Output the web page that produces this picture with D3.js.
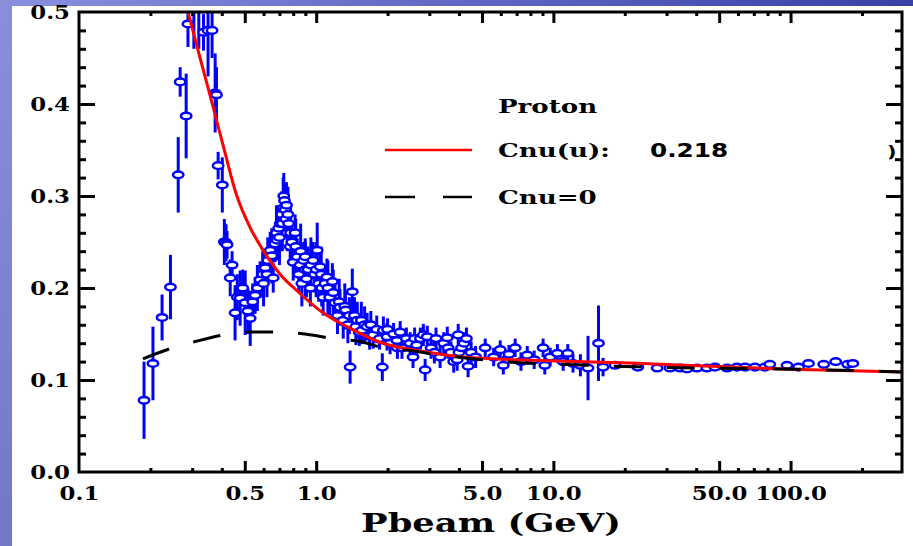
<!DOCTYPE html>
<html>
<head>
<meta charset="utf-8">
<script src="https://cdn.jsdelivr.net/npm/d3@7"></script>
<style>
  html, body { margin: 0; padding: 0; background: #fff; overflow: hidden; }
  text { font-family: "DejaVu Serif", serif; font-weight: bold; fill: #000; }
</style>
</head>
<body>
<div id="chart"></div>
<script>
/**
 * CONSTANTS AND GLOBALS
 * */
const width = 913,
  height = 546,
  margin = { top: 12, bottom: 74, left: 79, right: 11 };

// horizontal stretch of the lettering (the original is a stretched screenshot)
const tickStretch = 1.27,
  legendStretch = 1.45,
  titleStretch = 1.36;

/**
 * DATA  [pbeam (GeV), value, error]
 * */
const lowPoints = [
  [0.188, 0.078, 0.042], [0.205, 0.118, 0.040], [0.224, 0.168, 0.025], [0.243, 0.201, 0.035],
  [0.262, 0.323, 0.041], [0.267, 0.424, 0.016], [0.283, 0.387, 0.046], [0.288, 0.487, 0.025],
  [0.305, 0.530, 0.070], [0.320, 0.520, 0.060], [0.335, 0.478, 0.020], [0.350, 0.480, 0.050],
  [0.364, 0.480, 0.030], [0.375, 0.412, 0.043], [0.380, 0.410, 0.030], [0.386, 0.333, 0.015],
  [0.402, 0.312, 0.030], [0.410, 0.250, 0.025], [0.413, 0.250, 0.020], [0.417, 0.249, 0.020],
  [0.421, 0.247, 0.015], [0.434, 0.211, 0.020], [0.442, 0.225, 0.015]
];

const resonancePoints = [
  [0.455, 0.173, 0.030], [0.465, 0.190, 0.025], [0.478, 0.189, 0.030], [0.490, 0.200, 0.020],
  [0.502, 0.184, 0.035], [0.515, 0.175, 0.025], [0.527, 0.167, 0.030], [0.540, 0.185, 0.020],
  [0.553, 0.192, 0.020], [0.565, 0.200, 0.025], [0.580, 0.209, 0.020], [0.595, 0.215, 0.025],
  [0.600, 0.205, 0.025], [0.610, 0.222, 0.020], [0.620, 0.215, 0.025], [0.625, 0.230, 0.025],
  [0.640, 0.241, 0.020], [0.650, 0.235, 0.030], [0.659, 0.211, 0.016], [0.670, 0.248, 0.020],
  [0.680, 0.260, 0.030], [0.685, 0.252, 0.020], [0.695, 0.265, 0.020], [0.700, 0.255, 0.030],
  [0.705, 0.270, 0.020], [0.715, 0.280, 0.025], [0.720, 0.270, 0.030], [0.726, 0.287, 0.033],
  [0.730, 0.300, 0.025], [0.735, 0.295, 0.020], [0.740, 0.285, 0.030], [0.745, 0.275, 0.020],
  [0.750, 0.290, 0.025], [0.755, 0.260, 0.020], [0.760, 0.280, 0.030], [0.765, 0.270, 0.025],
  [0.777, 0.245, 0.020], [0.780, 0.260, 0.030], [0.790, 0.250, 0.020], [0.800, 0.228, 0.020],
  [0.815, 0.260, 0.020], [0.820, 0.245, 0.030], [0.832, 0.234, 0.020], [0.845, 0.215, 0.020],
  [0.856, 0.225, 0.020], [0.860, 0.240, 0.030], [0.870, 0.205, 0.025], [0.885, 0.230, 0.020],
  [0.899, 0.234, 0.020], [0.900, 0.220, 0.030], [0.910, 0.210, 0.020], [0.925, 0.220, 0.025],
  [0.945, 0.200, 0.020], [0.950, 0.225, 0.030], [0.970, 0.230, 0.020], [0.985, 0.215, 0.020],
  [1.000, 0.220, 0.030], [1.010, 0.241, 0.030], [1.025, 0.205, 0.020], [1.040, 0.223, 0.020],
  [1.050, 0.215, 0.030], [1.055, 0.200, 0.020], [1.070, 0.190, 0.020], [1.090, 0.205, 0.020],
  [1.110, 0.212, 0.020], [1.120, 0.200, 0.030], [1.140, 0.190, 0.020], [1.170, 0.207, 0.020],
  [1.180, 0.195, 0.025], [1.200, 0.184, 0.020], [1.230, 0.170, 0.020], [1.250, 0.185, 0.025],
  [1.260, 0.179, 0.020], [1.300, 0.165, 0.020], [1.320, 0.180, 0.025], [1.330, 0.176, 0.020],
  [1.360, 0.160, 0.020], [1.380, 0.170, 0.020], [1.390, 0.114, 0.018], [1.420, 0.196, 0.025]
];

const midPoints = [
  [1.45, 0.170, 0.020], [1.47, 0.158, 0.020], [1.49, 0.165, 0.020], [1.52, 0.152, 0.015],
  [1.55, 0.165, 0.020], [1.56, 0.154, 0.015], [1.60, 0.160, 0.020], [1.64, 0.158, 0.015],
  [1.68, 0.148, 0.015], [1.70, 0.160, 0.015], [1.74, 0.149, 0.015], [1.80, 0.155, 0.015],
  [1.85, 0.145, 0.012], [1.90, 0.114, 0.015], [1.92, 0.154, 0.015], [1.99, 0.147, 0.015],
  [2.00, 0.155, 0.012], [2.05, 0.140, 0.012], [2.12, 0.150, 0.012], [2.19, 0.143, 0.012],
  [2.20, 0.135, 0.012], [2.26, 0.152, 0.012], [2.30, 0.135, 0.012], [2.40, 0.145, 0.012],
  [2.49, 0.140, 0.012], [2.56, 0.125, 0.012], [2.60, 0.145, 0.012], [2.65, 0.138, 0.012],
  [2.75, 0.145, 0.012], [2.83, 0.149, 0.012], [2.88, 0.111, 0.012], [2.94, 0.147, 0.012],
  [3.05, 0.135, 0.012], [3.15, 0.130, 0.012], [3.20, 0.145, 0.012], [3.33, 0.125, 0.012],
  [3.45, 0.140, 0.012], [3.57, 0.146, 0.012], [3.60, 0.135, 0.012], [3.70, 0.130, 0.012],
  [3.80, 0.120, 0.012], [3.93, 0.122, 0.012], [3.97, 0.149, 0.012], [4.00, 0.130, 0.012],
  [4.10, 0.135, 0.012], [4.20, 0.140, 0.012], [4.30, 0.145, 0.012], [4.37, 0.115, 0.012],
  [4.50, 0.130, 0.012], [4.70, 0.125, 0.012]
];

const highPoints = [
  [5.16, 0.135, 0.010], [5.60, 0.125, 0.010], [5.97, 0.133, 0.010], [6.15, 0.116, 0.010],
  [6.50, 0.128, 0.010], [6.90, 0.135, 0.010], [7.30, 0.120, 0.010], [7.76, 0.127, 0.010],
  [8.30, 0.122, 0.010], [9.05, 0.135, 0.010], [9.20, 0.116, 0.010], [9.70, 0.125, 0.010],
  [10.4, 0.129, 0.010], [11.0, 0.120, 0.010], [11.5, 0.129, 0.010], [12.1, 0.118, 0.010],
  [13.0, 0.116, 0.012], [14.0, 0.113, 0.035], [15.5, 0.140, 0.041], [16.2, 0.114, 0.010],
  [18.2, 0.116, 0.004]
];

const flatPoints = [
  [22.7, 0.114, 0.002], [27.4, 0.113, 0.002], [31.0, 0.113, 0.002], [34.2, 0.113, 0.002],
  [36.6, 0.112, 0.002], [40.3, 0.113, 0.002], [44.4, 0.113, 0.002], [48.0, 0.114, 0.002],
  [54.0, 0.113, 0.002], [59.4, 0.114, 0.002], [64.3, 0.114, 0.002], [70.8, 0.114, 0.002],
  [78.0, 0.114, 0.002], [81.8, 0.117, 0.002], [96.6, 0.116, 0.002], [108, 0.114, 0.002],
  [119, 0.118, 0.002], [138, 0.117, 0.002], [155, 0.120, 0.002], [174, 0.117, 0.002],
  [183, 0.118, 0.002]
];

// fitted curves [pbeam, value]
const cnuFit = [
  [0.257, 0.55], [0.288, 0.50], [0.324, 0.45], [0.364, 0.401], [0.409, 0.351], [0.459, 0.303],
  [0.526, 0.266], [0.597, 0.241], [0.704, 0.215], [0.830, 0.197], [1.068, 0.173], [1.348, 0.158],
  [1.858, 0.141], [3.02, 0.130], [4.17, 0.125], [9.4, 0.121], [21, 0.1185], [90.7, 0.112],
  [300, 0.1087]
];
const cnuZero = [
  [0.186, 0.123], [0.242, 0.134], [0.309, 0.1418], [0.405, 0.149], [0.527, 0.1522], [0.705, 0.1522],
  [0.899, 0.150], [1.18, 0.145], [1.53, 0.1418], [1.86, 0.1359], [2.56, 0.1315], [3.33, 0.1272],
  [4.25, 0.1239], [5.69, 0.1207], [7.47, 0.1185], [9.9, 0.1174], [13, 0.1163], [16.9, 0.1152],
  [25.6, 0.1141], [41.7, 0.113], [90.7, 0.112], [300, 0.1087]
];

// ticks
const xLabelValues = [0.1, 0.5, 1, 5, 10, 50, 100];
const xLabels = ["0.1", "0.5", "1.0", "5.0", "10.0", "50.0", "100.0"];
const xMajor = [0.5, 1, 5, 10, 50, 100];
const xMinor = [0.2, 0.3, 0.4, 0.6, 0.7, 0.8, 0.9, 2, 3, 4, 6, 7, 8, 9, 20, 30, 40, 60, 70, 80, 90, 200];
const yLabelValues = [0, 0.1, 0.2, 0.3, 0.4, 0.5];
const yLabels = ["0.0", "0.1", "0.2", "0.3", "0.4", "0.5"];
const yMajor = [0.1, 0.2, 0.3, 0.4];
const yMinor = [0.02, 0.04, 0.06, 0.08, 0.12, 0.14, 0.16, 0.18, 0.22, 0.24, 0.26, 0.28,
  0.32, 0.34, 0.36, 0.38, 0.42, 0.44, 0.46, 0.48];

const legendItems = [
  { label: "Cnu(u):", value: "0.218", color: "#ff0000", dash: null },
  { label: "Cnu=0", value: "", color: "#000", dash: "30,28" }
];

/**
 * SCALES
 * */
const x = d3.scaleLog().domain([0.1, 295]).range([margin.left, width - margin.right]);
const y = d3.scaleLinear().domain([0, 0.5]).range([height - margin.bottom, margin.top]);

const svg = d3.select("#chart").append("svg")
  .attr("width", width)
  .attr("height", height);

// background strips
const defs = svg.append("defs");
const topGrad = defs.append("linearGradient").attr("id", "topGrad");
topGrad.append("stop").attr("offset", "0%").attr("stop-color", "#8a90e0");
topGrad.append("stop").attr("offset", "100%").attr("stop-color", "#3a40a6");
const leftGrad = defs.append("linearGradient").attr("id", "leftGrad")
  .attr("x1", 0).attr("y1", 0).attr("x2", 0).attr("y2", 1);
leftGrad.append("stop").attr("offset", "0%").attr("stop-color", "#8a8fdc");
leftGrad.append("stop").attr("offset", "100%").attr("stop-color", "#7378c6");
defs.append("clipPath").attr("id", "plotClip").append("rect")
  .attr("x", margin.left).attr("y", margin.top)
  .attr("width", width - margin.left - margin.right)
  .attr("height", height - margin.top - margin.bottom);

svg.append("rect").attr("x", 0).attr("y", 0).attr("width", width).attr("height", 6).attr("fill", "url(#topGrad)");
svg.append("rect").attr("x", 0).attr("y", 0).attr("width", 12).attr("height", height).attr("fill", "url(#leftGrad)");

/**
 * DATA MARKS
 * */
const plot = svg.append("g").attr("clip-path", "url(#plotClip)");
const allPoints = [...lowPoints, ...resonancePoints, ...midPoints, ...highPoints, ...flatPoints];

plot.selectAll("line.err")
  .data(allPoints)
  .join("line")
  .attr("class", "err")
  .attr("x1", d => x(d[0])).attr("x2", d => x(d[0]))
  .attr("y1", d => y(d[1] - d[2])).attr("y2", d => y(d[1] + d[2]))
  .attr("stroke", "#0000ff")
  .attr("stroke-width", 3);

plot.selectAll("ellipse.pt")
  .data(allPoints)
  .join("ellipse")
  .attr("class", "pt")
  .attr("cx", d => x(d[0])).attr("cy", d => y(d[1]))
  .attr("rx", 5.2).attr("ry", 3.3)
  .attr("fill", "#fff")
  .attr("stroke", "#0000ff")
  .attr("stroke-width", 2.5);

const line = d3.line().x(d => x(d[0])).y(d => y(d[1])).curve(d3.curveMonotoneX);

plot.append("path").datum(cnuFit)
  .attr("d", line).attr("fill", "none")
  .attr("stroke", "#ff0000").attr("stroke-width", 3);

plot.append("path").datum(cnuZero)
  .attr("d", line).attr("fill", "none")
  .attr("stroke", "#000").attr("stroke-width", 3)
  .attr("stroke-dasharray", "28,25");

/**
 * AXES
 * */
function tickAxis(axis, values, size, tf) {
  const g = svg.append("g").attr("transform", tf)
    .call(axis.tickValues(values).tickSize(size).tickFormat(""));
  g.select(".domain").remove();
  g.selectAll("line").attr("stroke", "#000").attr("stroke-width", 3);
  return g;
}
const bottomY = height - margin.bottom, rightX = width - margin.right;
tickAxis(d3.axisBottom(x), xMajor, -11, `translate(0,${bottomY})`);
tickAxis(d3.axisBottom(x), xMinor, -4, `translate(0,${bottomY})`);
tickAxis(d3.axisTop(x), xMajor, -11, `translate(0,${margin.top})`);
tickAxis(d3.axisTop(x), xMinor, -4, `translate(0,${margin.top})`);
tickAxis(d3.axisLeft(y), yMajor, -16, `translate(${margin.left},0)`);
tickAxis(d3.axisLeft(y), yMinor, -7, `translate(${margin.left},0)`);
tickAxis(d3.axisRight(y), yMajor, -16, `translate(${rightX},0)`);
tickAxis(d3.axisRight(y), yMinor, -7, `translate(${rightX},0)`);

// frame
svg.append("rect")
  .attr("x", margin.left).attr("y", margin.top)
  .attr("width", width - margin.left - margin.right)
  .attr("height", height - margin.top - margin.bottom)
  .attr("fill", "none").attr("stroke", "#000").attr("stroke-width", 3);

// tick labels
const xLab = svg.append("g").attr("transform", `translate(0,${bottomY})`)
  .call(d3.axisBottom(x).tickValues(xLabelValues).tickSize(0)
    .tickFormat((d, i) => xLabels[i]));
xLab.select(".domain").remove();
xLab.selectAll("text")
  .attr("y", 28).attr("dy", null)
  .style("font-size", "18px")
  .attr("transform", `scale(${tickStretch},1)`);

const yLab = svg.append("g").attr("transform", `translate(${margin.left},0)`)
  .call(d3.axisLeft(y).tickValues(yLabelValues).tickSize(0)
    .tickFormat((d, i) => yLabels[i]));
yLab.select(".domain").remove();
yLab.selectAll("text")
  .attr("x", -9 / tickStretch).attr("dy", "0.36em")
  .style("font-size", "18px")
  .attr("transform", `scale(${tickStretch},1)`);

// axis title
svg.append("text")
  .attr("transform", `translate(491,532) scale(${titleStretch},1)`)
  .attr("text-anchor", "middle")
  .style("font-size", "26px")
  .text("Pbeam (GeV)");

/**
 * LEGEND
 * */
svg.append("text")
  .attr("transform", `translate(498,113) scale(${legendStretch},1)`)
  .style("font-size", "18px")
  .text("Proton");

const leg = svg.selectAll("g.legend")
  .data(legendItems)
  .join("g")
  .attr("class", "legend")
  .attr("transform", (d, i) => `translate(0,${150 + i * 47})`);
leg.append("line")
  .attr("x1", 385).attr("x2", 472)
  .attr("stroke", d => d.color).attr("stroke-width", 2.5)
  .attr("stroke-dasharray", d => d.dash);
leg.append("text")
  .attr("transform", `translate(498,7) scale(${legendStretch},1)`)
  .style("font-size", "18px")
  .text(d => d.label);
leg.append("text")
  .attr("transform", `translate(650,7) scale(1.3,1)`)
  .style("font-family", "'DejaVu Sans', sans-serif")
  .style("font-size", "19px")
  .text(d => d.value);

// clipped remnant of a label at the right edge
svg.append("text")
  .attr("transform", `translate(887,157) scale(1.3,1)`)
  .style("font-family", "'DejaVu Sans', sans-serif")
  .style("font-size", "16px")
  .text(")");
</script>
</body>
</html>
